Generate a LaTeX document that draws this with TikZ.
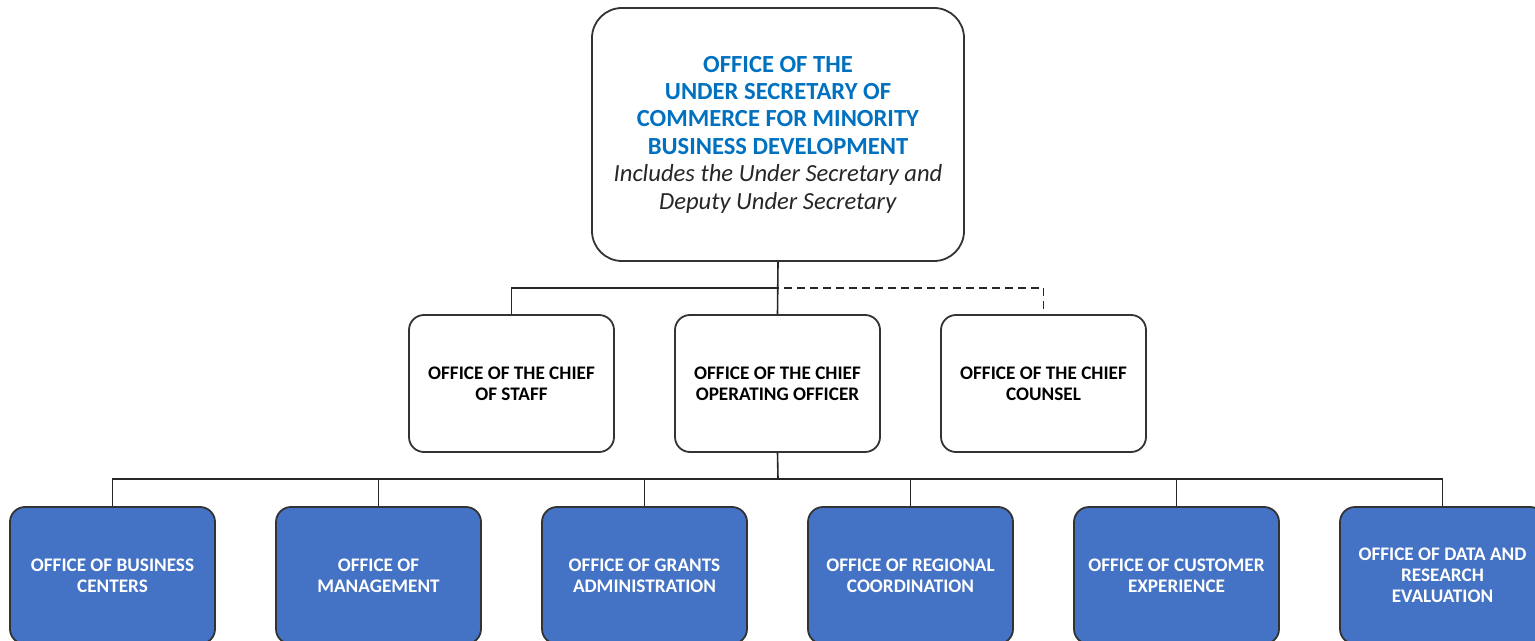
\documentclass[tikz,border=0pt]{standalone}
\usepackage{fontspec}
\setmainfont{Carlito}
\usetikzlibrary{positioning}
\definecolor{unitblue}{HTML}{4472C4}
\definecolor{titleblue}{HTML}{0070C0}
\definecolor{edgegray}{HTML}{333333}
\newcommand{\ustitle}[1]{\textcolor{titleblue}{\textbf{#1}}}

\begin{document}
\begin{tikzpicture}[x=0.5pt, y=-0.5pt,
    office/.style={draw=edgegray, line width=0.9pt, rounded corners=7.5pt,
      minimum width=102.5pt, minimum height=68.5pt, align=center, inner sep=2pt,
      font=\fontsize{9.6}{10.5}\selectfont\bfseries},
    unit/.style={office, fill=unitblue, text=white},
    link/.style={line width=0.8pt, draw=black!85}]
    \useasboundingbox (0,0) rectangle (1535,641);
    % Under Secretary
    \node[office, rounded corners=15pt, minimum width=186pt, minimum height=126.5pt,
      font=\fontsize{12.3}{13.7}\selectfont, text=black!85] (usec) at (778,134.5)
      {\ustitle{OFFICE OF THE}\\ \ustitle{UNDER SECRETARY OF}\\
       \ustitle{COMMERCE FOR MINORITY}\\ \ustitle{BUSINESS DEVELOPMENT}\\
       \textit{Includes the Under Secretary and}\\ \textit{Deputy Under Secretary}};
    % Second level
    \foreach \name/\x/\txt in {staff/511.5/{OFFICE OF THE CHIEF\\OF STAFF},
        coo/777.5/{OFFICE OF THE CHIEF\\OPERATING OFFICER},
        counsel/1043.5/{OFFICE OF THE CHIEF\\COUNSEL}} {
      \node[office] (\name) at (\x,383.5) {\txt};
    }
    % Offices under the COO
    \foreach \i/\txt in {0/{OFFICE OF BUSINESS\\CENTERS}, 1/{OFFICE OF\\MANAGEMENT},
        2/{OFFICE OF GRANTS\\ADMINISTRATION}, 3/{OFFICE OF REGIONAL\\COORDINATION},
        4/{OFFICE OF CUSTOMER\\EXPERIENCE}, 5/{OFFICE OF DATA AND\\RESEARCH\\EVALUATION}} {
      \node[unit] (unit\i) at ({112.5+266*\i},575.5) {\txt};
    }
    % Lines
    \coordinate (bus1) at (778,288);
    \coordinate (bus2) at (778,479);
    \draw[link] (usec.south) -- (coo.north);
    \draw[link] (staff.north) |- (bus1);
    \draw[link, dashed, dash pattern=on 4pt off 2.5pt] (counsel.north) ++(0,-5) |- (bus1);
    \draw[link] (coo.south) -- (bus2);
    \foreach \i in {0,...,5} {
      \draw[link] (unit\i.north) |- (bus2);
    }
  \end{tikzpicture}
\end{document}
